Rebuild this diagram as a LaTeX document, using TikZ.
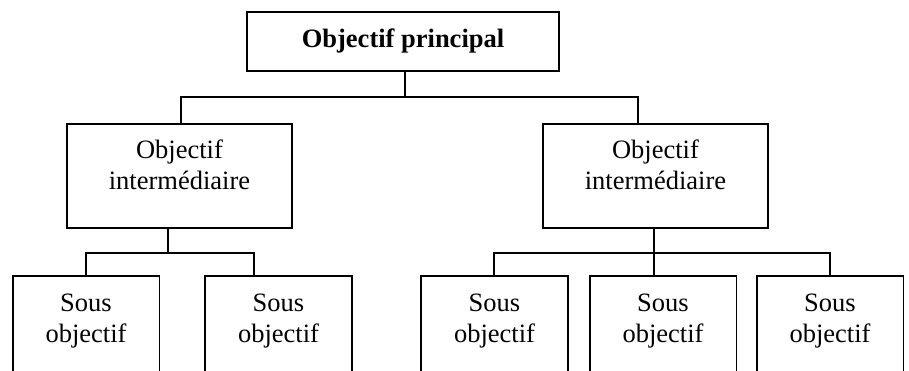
\documentclass[tikz,border=0pt]{standalone}
\usepackage{fontspec}
\setmainfont{Liberation Serif}
\begin{document}
\begin{tikzpicture}[x=1pt, y=-1pt, line width=1.8pt,
  frame/.style={draw, rectangle, inner sep=0pt, minimum height=#1},
  openbox/.style={rectangle, inner sep=0pt, minimum width=145pt, minimum height=96pt},
  txt/.style={anchor=base, inner sep=0pt, align=center, font=\fontsize{26.5}{31}\selectfont}]
\useasboundingbox (0,0) rectangle (909,371);

% main objective
\node[frame=59pt, minimum width=312pt] (top) at (403,41.5) {};
\node[txt, font=\bfseries\fontsize{26.5}{31}\selectfont] (toptext) at (403,48) {Objectif principal};

% intermediate objectives (text anchored on the baseline of its last line)
\node[frame=104pt, minimum width=225pt] (midL) at (179.5,176) {};
\node[txt] (midLtext) at (179.5,190) {Objectif\\intermédiaire};
\node[frame=104pt, minimum width=225pt] (midR) at (655.5,176) {};
\node[txt] (midRtext) at (655.5,190) {Objectif\\intermédiaire};

% sub-objectives (open at the bottom)
\foreach \n/\x in {1/86, 2/278.5, 3/494.5, 4/663, 5/830} {
  \node[openbox] (sub\n) at (\x,325) {};
  \draw (sub\n.south west) |- (sub\n.north east) -- (sub\n.south east);
  \node[txt] (sub\n text) at (\x,342) {Sous\\objectif};
}

% junction points
\coordinate (j0) at (405,97);
\coordinate (jA) at (181,97);
\coordinate (jB) at (638,97);
\coordinate (k1) at (168,253);
\coordinate (k1a) at (86,253);
\coordinate (k1b) at (254,253);
\coordinate (k2) at (654,253);
\coordinate (k2a) at (494,253);
\coordinate (k2c) at (830,253);

% connectors
\draw (top.south -| j0) -- (j0);
\draw (midL.north -| jA) -- (jA) -- (jB) -- (midR.north -| jB);
\draw (midL.south -| k1) -- (k1);
\draw (sub1.north -| k1a) -- (k1a) -- (k1b) -- (sub2.north -| k1b);
\draw (midR.south -| k2) -- (sub4.north -| k2);
\draw (sub3.north -| k2a) -- (k2a) -- (k2c) -- (sub5.north -| k2c);
\end{tikzpicture}
\end{document}
